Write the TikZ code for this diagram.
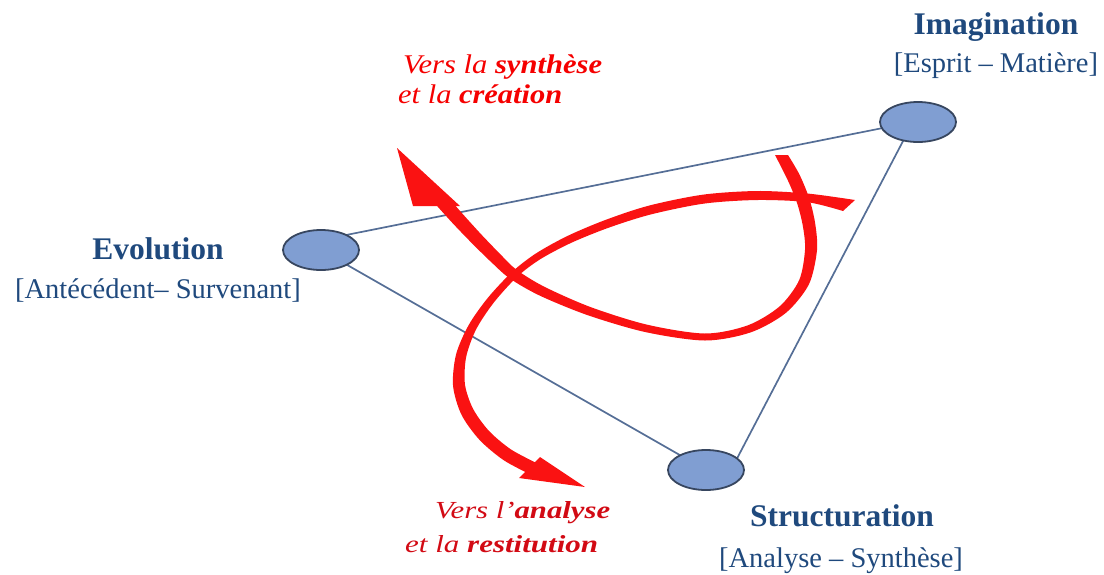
\documentclass[tikz,border=0pt]{standalone}
\usepackage{fontspec}
\usepackage{graphicx}
\setmainfont{Liberation Serif}[ItalicFont={Liberation Serif Italic}, BoldItalicFont={Liberation Serif Bold Italic}, BoldFont={Liberation Serif Bold}]
\usetikzlibrary{calc,shapes.geometric,backgrounds}
\definecolor{titleblue}{RGB}{31,73,125}
\definecolor{edgeblue}{RGB}{85,110,150}
\definecolor{ellfill}{RGB}{128,158,210}
\definecolor{elldraw}{RGB}{55,70,95}
\definecolor{arrowred}{RGB}{250,18,18}
\definecolor{textred}{RGB}{245,0,0}
\definecolor{textredB}{RGB}{210,10,20}
\newcommand\mkside[5]{\path let \p1=(#2), \p2=(#4), \n1={atan2(\y2-\y1,\x2-\x1)}, \n2={\n1+90}, \n3={\n1-90} in coordinate (#1L) at ($(#3)+(\n2:#5pt)$) coordinate (#1R) at ($(#3)+(\n3:#5pt)$);}
% sample a cubic: start name, three inner names
\newcommand\sampleseg[7]{\path (#1) .. controls (#2) and (#3) .. (#4) coordinate[pos=0.25] (#5) coordinate[pos=0.5] (#6) coordinate[pos=0.75] (#7);}
\tikzset{
  ell/.style={ellipse, draw=elldraw, fill=ellfill, line width=1.8pt, minimum width=76pt, minimum height=40pt, inner sep=0pt},
  edge/.style={draw=edgeblue, line width=1.7pt},
  titletxt/.style={font=\fontsize{31.5}{36}\selectfont\bfseries, text=titleblue, inner sep=0pt, anchor=base},
  subtxt/.style={font=\fontsize{28.5}{32}\selectfont, text=titleblue, inner sep=0pt, anchor=base},
  redtxtA/.style={font=\fontsize{27}{30}\selectfont, text=textred, inner sep=0pt, anchor=base west},
  redtxtB/.style={font=\fontsize{24.5}{28}\selectfont, text=textredB, inner sep=0pt, anchor=base west},
  redfill/.style={fill=arrowred}
}
\begin{document}
\begin{tikzpicture}[x=1pt,y=-1pt]
\useasboundingbox (0,0) rectangle (1104,574);
% ellipses
\node[ell] (evo) at (321,250) {};
\node[ell] (ima) at (918,122) {};
\node[ell] (str) at (706,470) {};
% connectors
\begin{scope}[on background layer]
\draw[edge] ([yshift=10pt]evo.center) -- ([yshift=1pt]ima.center);
\draw[edge] (evo.center) -- (str.center);
\draw[edge] ([xshift=-5pt]ima.center) -- ([xshift=25pt]str.center);
\end{scope}
% labels
\node[titletxt] (evot) at (158,259) {Evolution};
\node[subtxt] (evos) at (158,298) {[Antécédent– Survenant]};
\node[titletxt] (imat) at (996,34) {Imagination};
\node[subtxt] (imas) at (996,72) {[Esprit – Matière]};
\node[titletxt] (strt) at (842,526) {Structuration};
\node[subtxt] (strs) at (841,567) {[Analyse – Synthèse]};
\node[redtxtA] (t1) at (403,73) {\resizebox{199pt}{\height}{\itshape Vers la \textbf{synthèse}}};
\node[redtxtA] (t2) at (398,103) {\resizebox{164pt}{\height}{\itshape et la \textbf{création}}};
\node[redtxtB] (t3) at (435,518) {\resizebox{175pt}{\height}{\itshape Vers l’\textbf{analyse}}};
\node[redtxtB] (t4) at (405,552) {\resizebox{193pt}{\height}{\itshape et la \textbf{restitution}}};
% stroke A centerline (smooth beziers)
\coordinate (a0) at (442,201);
\coordinate (a4) at (513,274);
\coordinate (a8) at (705,337);
\coordinate (a12) at (811,250);
\coordinate (a16) at (781,155);
\coordinate (ca1) at (462,224); \coordinate (ca2) at (492,256);
\coordinate (ca3) at (535,292); \coordinate (ca4) at (630,334);
\coordinate (ca5) at (770,335); \coordinate (ca6) at (812,295);
\coordinate (ca7) at (811,215); \coordinate (ca8) at (800,185);
\sampleseg{a0}{ca1}{ca2}{a4}{a1}{a2}{a3}
\sampleseg{a4}{ca3}{ca4}{a8}{a5}{a6}{a7}
\sampleseg{a8}{ca5}{ca6}{a12}{a9}{a10}{a11}
\sampleseg{a12}{ca7}{ca8}{a16}{a13}{a14}{a15}
\mkside{a0}{a0}{a0}{a1}{7}
\mkside{a1}{a0}{a1}{a2}{6.8}
\mkside{a2}{a1}{a2}{a3}{6.4}
\mkside{a3}{a2}{a3}{a4}{6}
\mkside{a4}{a3}{a4}{a5}{5.5}
\mkside{a5}{a4}{a5}{a6}{5}
\mkside{a6}{a5}{a6}{a7}{4.3}
\mkside{a7}{a6}{a7}{a8}{3.8}
\mkside{a8}{a7}{a8}{a9}{3.5}
\mkside{a9}{a8}{a9}{a10}{3.8}
\mkside{a10}{a9}{a10}{a11}{4.5}
\mkside{a11}{a10}{a11}{a12}{5.3}
\mkside{a12}{a11}{a12}{a13}{6}
\mkside{a13}{a12}{a13}{a14}{6.3}
\mkside{a14}{a13}{a14}{a15}{6.5}
\mkside{a15}{a14}{a15}{a16}{6.5}
\coordinate (a16L) at (775,155);
\coordinate (a16R) at (788,155);
% stroke B centerline
\coordinate (b0) at (851,205);
\coordinate (b4) at (650,210);
\coordinate (b8) at (515,274);
\coordinate (b12) at (459,385);
\coordinate (b16) at (534,469);
\coordinate (cb1) at (800,193); \coordinate (cb2) at (720,190);
\coordinate (cb3) at (590,227); \coordinate (cb4) at (540,250);
\coordinate (cb5) at (480,308); \coordinate (cb6) at (455,345);
\coordinate (cb7) at (463,422); \coordinate (cb8) at (497,454);
\sampleseg{b0}{cb1}{cb2}{b4}{b1}{b2}{b3}
\sampleseg{b4}{cb3}{cb4}{b8}{b5}{b6}{b7}
\sampleseg{b8}{cb5}{cb6}{b12}{b9}{b10}{b11}
\sampleseg{b12}{cb7}{cb8}{b16}{b13}{b14}{b15}
\coordinate (b0L) at (843,211);
\coordinate (b0R) at (855,200);
\mkside{b1}{b0}{b1}{b2}{4.3}
\mkside{b2}{b1}{b2}{b3}{4.5}
\mkside{b3}{b2}{b3}{b4}{4.5}
\mkside{b4}{b3}{b4}{b5}{4.5}
\mkside{b5}{b4}{b5}{b6}{4.2}
\mkside{b6}{b5}{b6}{b7}{3.9}
\mkside{b7}{b6}{b7}{b8}{3.6}
\mkside{b8}{b7}{b8}{b9}{3.5}
\mkside{b9}{b8}{b9}{b10}{3.8}
\mkside{b10}{b9}{b10}{b11}{4.3}
\mkside{b11}{b10}{b11}{b12}{5.2}
\mkside{b12}{b11}{b12}{b13}{6}
\mkside{b13}{b12}{b13}{b14}{6.5}
\mkside{b14}{b13}{b14}{b15}{6.5}
\mkside{b15}{b14}{b15}{b16}{6.5}
\mkside{b16}{b15}{b16}{b16}{6.5}
% fills
\fill[redfill] plot[smooth] coordinates {(b0L) (b1L) (b2L) (b3L) (b4L) (b5L) (b6L) (b7L) (b8L) (b9L) (b10L) (b11L) (b12L) (b13L) (b14L) (b15L) (b16L)}
  -- plot[smooth] coordinates {(b16R) (b15R) (b14R) (b13R) (b12R) (b11R) (b10R) (b9R) (b8R) (b7R) (b6R) (b5R) (b4R) (b3R) (b2R) (b1R) (b0R)} -- cycle;
\fill[redfill] plot[smooth] coordinates {(a0L) (a1L) (a2L) (a3L) (a4L) (a5L) (a6L) (a7L) (a8L) (a9L) (a10L) (a11L) (a12L) (a13L) (a14L) (a15L) (a16L)}
  -- plot[smooth] coordinates {(a16R) (a15R) (a14R) (a13R) (a12R) (a11R) (a10R) (a9R) (a8R) (a7R) (a6R) (a5R) (a4R) (a3R) (a2R) (a1R) (a0R)} -- cycle;
\coordinate (hA1) at (397,148);
\coordinate (hA2) at (413,206);
\coordinate (hA3) at (460,206);
\fill[redfill] (hA1) -- (hA2) -- (hA3) -- cycle;
\coordinate (hB1) at (585,487);
\coordinate (hB2) at (540,457);
\coordinate (hB3) at (519,478);
\fill[redfill] (hB1) -- (hB2) -- (hB3) -- cycle;
\end{tikzpicture}
\end{document}
